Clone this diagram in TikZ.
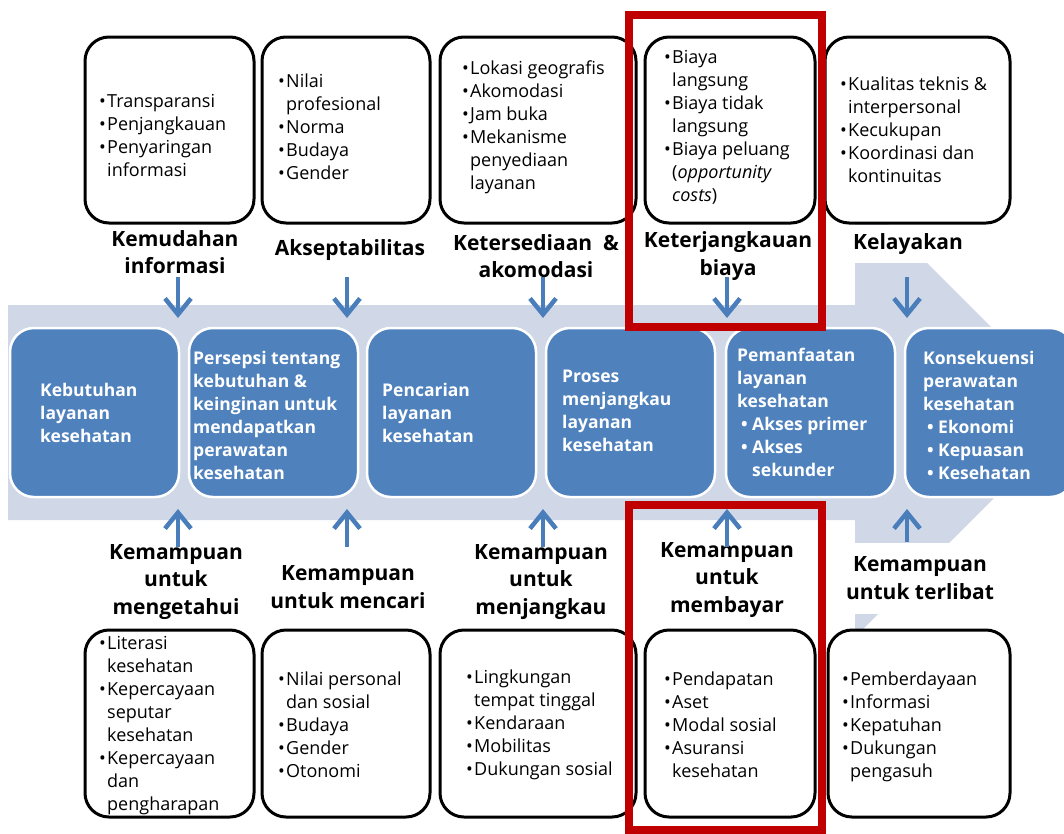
\documentclass[tikz,border=0pt]{standalone}
\usepackage{fontspec}
\setmainfont{Open Sans}
\usetikzlibrary{arrows.meta}

\definecolor{stageblue}{HTML}{4F81BD}
\definecolor{bandblue}{HTML}{D0D8E8}
\definecolor{arrowblue}{HTML}{4A7EBB}
\definecolor{hired}{HTML}{C00000}

% bullets for the list boxes and the stage boxes
\newcommand\bul{\makebox[8pt][l]{\textbullet}}
\newcommand\hang{\hspace*{8pt}}
\newcommand\sbul{\hspace*{4pt}\makebox[11pt][l]{\textbullet}}
\newcommand\shang{\hspace*{15pt}}

\begin{document}
\begin{tikzpicture}[x=1pt,y=-1pt,
  listbox/.style={draw=black, line width=3pt, rounded corners=24pt, fill=white,
    minimum height=186pt, inner sep=0pt},
  stagebox/.style={draw=white, line width=2.5pt, fill=stageblue, rounded corners=24pt,
    minimum width=169pt, minimum height=169pt, inner sep=0pt},
  listtext/.style={anchor=west, align=left, inner sep=0pt, text=black,
    font=\fontsize{18}{23}\selectfont},
  stagetext/.style={anchor=west, align=left, inner sep=0pt, text=white,
    font=\fontsize{17.5}{23}\selectfont\bfseries},
  dimlabel/.style={align=center, inner sep=0pt,
    font=\fontsize{21}{27.5}\selectfont\bfseries},
  flow/.style={draw=arrowblue, line width=4.5pt, -{Straight Barb[length=16pt,width=26pt]}},
  hilite/.style={draw=hired, line width=8pt, inner sep=0pt}]

\useasboundingbox (0,0) rectangle (1064,833);
\clip (0,0) rectangle (1064,833);

% the broad process arrow behind the stages
\fill[bandblue] (8,305) -- (855,305) -- (855,191) -- (1078,414) -- (855,637)
  -- (855,520) -- (8,520) -- cycle;

% stages of access
\node[stagebox] (s1) at (94.5,412.5) {};
\node[stagebox] (s2) at (273.5,412.5) {};
\node[stagebox] (s3) at (451.5,412.5) {};
\node[stagebox] (s4) at (630.5,412.5) {};
\node[stagebox] (s5) at (810.5,412.5) {};
\node[stagebox] (s6) at (989.5,412.5) {};

\node[stagetext] (s1t) at (40,412.5) {Kebutuhan\\layanan\\kesehatan};
\node[stagetext] (s2t) at (193,415) {Persepsi tentang\\kebutuhan \&\\keinginan untuk\\mendapatkan\\perawatan\\kesehatan};
\node[stagetext] (s3t) at (382,412.5) {Pencarian\\layanan\\kesehatan};
\node[stagetext] (s4t) at (562,410.5) {Proses\\menjangkau\\layanan\\kesehatan};
\node[stagetext] (s5t) at (737,412) {Pemanfaatan\\layanan\\kesehatan\\\sbul Akses primer\\\sbul Akses\\\shang sekunder};
\node[stagetext] (s6t) at (923,415) {Konsekuensi\\perawatan\\kesehatan\\\sbul Ekonomi\\\sbul Kepuasan\\\sbul Kesehatan};

% supply-side dimensions (top)
\node[listbox, minimum width=169pt] (t1) at (169.5,130) {};
\node[listbox, minimum width=168pt] (t2) at (346,130) {};
\node[listbox, minimum width=196pt] (t3) at (538,130) {};
\node[listbox, minimum width=170pt] (t4) at (730,130) {};
\node[listbox, minimum width=185pt] (t5) at (917.5,130) {};

\node[listtext] (t1t) at (99,135) {\bul Transparansi\\\bul Penjangkauan\\\bul Penyaringan\\\hang informasi};
\node[listtext] (t2t) at (278,127) {\bul Nilai\\\hang profesional\\\bul Norma\\\bul Budaya\\\bul Gender};
\node[listtext] (t3t) at (462,127.5) {\bul Lokasi geografis\\\bul Akomodasi\\\bul Jam buka\\\bul Mekanisme\\\hang penyediaan\\\hang layanan};
\node[listtext] (t4t) at (664,127.5) {\bul Biaya\\\hang langsung\\\bul Biaya tidak\\\hang langsung\\\bul Biaya peluang\\\hang (\textit{opportunity}\\\hang \textit{costs})};
\node[listtext] (t5t) at (840,130) {\bul Kualitas teknis \&\\\hang interpersonal\\\bul Kecukupan\\\bul Koordinasi dan\\\hang kontinuitas};

\node[dimlabel] (l1) at (175,252) {Kemudahan\\informasi};
\node[dimlabel] (l2) at (350,250) {Akseptabilitas};
\node[dimlabel] (l3) at (536,256) {Ketersediaan \ \&\\akomodasi};
\node[dimlabel] (l4) at (728,256) {Keterjangkauan\\biaya};
\node[dimlabel, fill=white, minimum width=150pt, minimum height=38pt] (l5) at (908,244) {Kelayakan};

% demand-side abilities (bottom)
\node[listbox, minimum width=169pt, minimum height=187pt] (b1) at (169.5,723.5) {};
\node[listbox, minimum width=168pt, minimum height=187pt] (b2) at (346,723.5) {};
\node[listbox, minimum width=196pt, minimum height=187pt] (b3) at (538,723.5) {};
\node[listbox, minimum width=170pt, minimum height=187pt] (b4) at (730,723.5) {};
\node[listbox, minimum width=182pt, minimum height=187pt] (b5) at (919,723.5) {};

\node[listtext] (b1t) at (99,726) {\bul Literasi\\\hang kesehatan\\\bul Kepercayaan\\\hang seputar\\\hang kesehatan\\\bul Kepercayaan\\\hang dan\\\hang pengharapan};
\node[listtext] (b2t) at (278,725) {\bul Nilai personal\\\hang dan sosial\\\bul Budaya\\\bul Gender\\\bul Otonomi};
\node[listtext] (b3t) at (466,725) {\bul Lingkungan\\\hang tempat tinggal\\\bul Kendaraan\\\bul Mobilitas\\\bul Dukungan sosial};
\node[listtext] (b4t) at (664,725) {\bul Pendapatan\\\bul Aset\\\bul Modal sosial\\\bul Asuransi\\\hang kesehatan};
\node[listtext] (b5t) at (842,727) {\bul Pemberdayaan\\\bul Informasi\\\bul Kepatuhan\\\bul Dukungan\\\hang pengasuh};

\node[dimlabel] (m1) at (176,582) {Kemampuan\\untuk\\mengetahui};
\node[dimlabel] (m2) at (348,587) {Kemampuan\\untuk mencari};
\node[dimlabel] (m3) at (541,582) {Kemampuan\\untuk\\menjangkau};
\node[dimlabel] (m4) at (727,580) {Kemampuan\\untuk\\membayar};
\node[dimlabel, fill=white, minimum width=172pt, minimum height=71pt] (m5) at (920,578) {Kemampuan\\untuk terlibat};

% arrows into the process band
\foreach \i/\x in {1/178, 2/347, 3/543, 4/727, 5/907} {
  \coordinate (dn\i) at (\x,277);
  \coordinate (dt\i) at (\x,318);
  \draw[flow] (dn\i) -- (dt\i);
}
\foreach \i/\x/\y in {1/178/547, 2/347/547, 3/543/547, 4/727/547, 5/907/542} {
  \coordinate (up\i) at (\x,\y);
  \coordinate (ut\i) at (\x,509);
  \draw[flow] (up\i) -- (ut\i);
}

% highlight frames
\node[hilite, minimum width=193pt, minimum height=312pt] (h1) at (725.5,170.5) {};
\node[hilite, minimum width=193pt, minimum height=325pt] (h2) at (725.5,667.5) {};
\end{tikzpicture}
\end{document}
